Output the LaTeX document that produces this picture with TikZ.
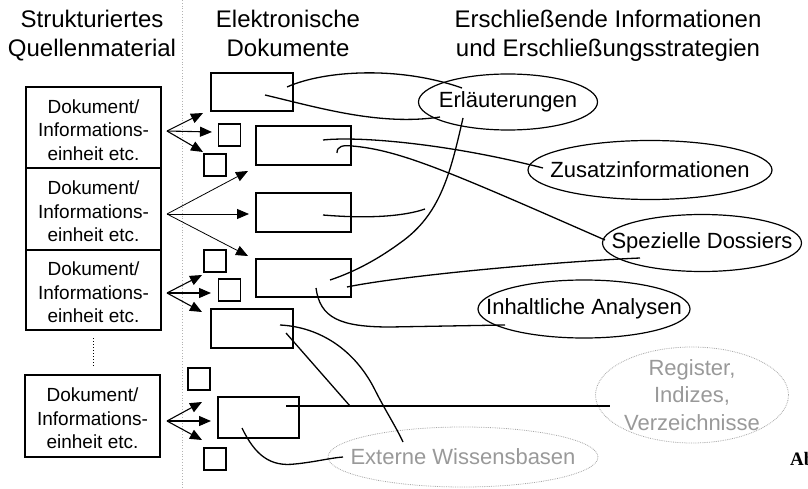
\documentclass[tikz,border=0pt]{standalone}
\usepackage{fontspec}
\setmainfont{Liberation Sans}
\newfontfamily\serifbold{Liberation Serif}
\usetikzlibrary{arrows.meta,shapes.geometric}
\begin{document}
\begin{tikzpicture}[x=1pt,y=-1pt,
  title/.style={align=center,font=\fontsize{24}{29}\selectfont,inner sep=0,anchor=base},
  srcbox/.style={draw,line width=1.3pt,minimum width=135pt,inner sep=0,
    label={[srctext]center:{Dokument/\\Informations-\\einheit etc.}}},
  srctext/.style={align=center,inner sep=0,yshift=-2.5pt,font=\fontsize{19}{23.5}\selectfont},
  docbox/.style={draw,line width=1.3pt,inner sep=0},
  sq/.style={draw,line width=1.2pt,minimum size=22pt,inner sep=0},
  ell/.style={draw,ellipse,line width=1.2pt,inner sep=0,font=\fontsize{22}{26}\selectfont},
  gell/.style={draw=black!35,ellipse,line width=0.8pt,densely dotted,inner sep=0,text=black!40,font=\fontsize{22}{27.5}\selectfont},
  gtext/.style={align=center,inner sep=0,text=black!40,font=\fontsize{22}{27.5}\selectfont},
  arr/.style={line width=1.1pt,-{Triangle[length=12pt,width=10pt]}},
  conn/.style={line width=1.3pt}
]
\useasboundingbox (0,0) rectangle (808,489);
\clip (0,0) rectangle (808,489);

% separator
\coordinate (septop) at (182,0);
\coordinate (sepbot) at (182,489);
\draw[black!30,dotted,line width=0.8pt] (septop) -- (sepbot);

% titles (base anchor = baseline of last line)
\node[title] (t1) at (92,57) {Strukturiertes\\Quellenmaterial};
\node[title] (t2) at (288,57) {Elektronische\\Dokumente};
\node[title] (t3) at (608,57) {Erschließende Informationen\\und Erschließungsstrategien};

% source boxes
\node[srcbox,minimum height=81pt] (b1) at (93.5,127.5) {};
\node[srcbox,minimum height=82pt] (b2) at (93.5,209) {};
\node[srcbox,minimum height=80pt] (b3) at (93.5,290) {};
\node[srcbox,minimum height=82pt] (b4) at (92.5,416) {};
\coordinate (vd1) at (93,338);
\coordinate (vd2) at (93,366);
\draw[dotted,line width=1pt] (vd1) -- (vd2);

% small squares
\node[sq] (s1) at (229.5,135) {};
\node[sq] (s2) at (215,165) {};
\node[sq] (s3) at (215,261) {};
\node[sq] (s4) at (229.5,290) {};
\node[sq] (s5) at (199,379) {};
\node[sq] (s6) at (215,459) {};

% document rectangles
\node[docbox,minimum width=82pt,minimum height=38pt] (r1) at (252,92) {};
\node[docbox,minimum width=95pt,minimum height=39pt] (r2) at (303.5,145.5) {};
\node[docbox,minimum width=95pt,minimum height=39pt] (r3) at (303.5,212.5) {};
\node[docbox,minimum width=95pt,minimum height=38pt] (r4) at (303.5,278) {};
\node[docbox,minimum width=82pt,minimum height=39pt] (r5) at (252,328.5) {};
\node[docbox,minimum width=81pt,minimum height=41pt] (r6) at (258.5,417.5) {};

% arrows
\coordinate (o1) at (167,131);
\coordinate (a11) at (203,113);
\coordinate (a12) at (212,132);
\coordinate (a13) at (203,152);
\draw[arr] (o1) -- (a11);
\draw[arr] (o1) -- (a12);
\draw[arr] (o1) -- (a13);
\coordinate (o2) at (167,214);
\coordinate (a21) at (248,171);
\coordinate (a22) at (249,214);
\coordinate (a23) at (248,256);
\draw[arr,line width=0.8pt] (o2) -- (a21);
\draw[arr,line width=0.8pt] (o2) -- (a22);
\draw[arr,line width=0.8pt] (o2) -- (a23);
\coordinate (o3) at (167,293);
\coordinate (a31) at (202,275);
\coordinate (a32) at (211,293);
\coordinate (a33) at (202,312);
\draw[arr] (o3) -- (a31);
\draw[arr] (o3) -- (a32);
\draw[arr] (o3) -- (a33);
\coordinate (o4) at (167,421);
\coordinate (a41) at (202,402);
\coordinate (a42) at (211,421);
\coordinate (a43) at (202,440);
\draw[arr] (o4) -- (a41);
\draw[arr] (o4) -- (a42);
\draw[arr] (o4) -- (a43);

% ellipses
\node[ell,minimum width=179pt,minimum height=56pt] (erl) at (508,102) {\makebox[0pt]{Erläuterungen}};
\node[ell,minimum width=244pt,minimum height=59pt] (zus) at (650,170) {\makebox[0pt]{Zusatzinformationen}};
\node[ell,minimum width=199pt,minimum height=57pt] (spe) at (702,243) {\makebox[0pt]{Spezielle Dossiers}};
\node[ell,minimum width=212pt,minimum height=58pt] (inh) at (584,309) {\makebox[0pt]{Inhaltliche Analysen}};
\node[gell,minimum width=193pt,minimum height=96pt,label={[gtext]center:{Register,\\Indizes,\\Verzeichnisse}}] (reg) at (692,395) {};
\node[gell,minimum width=270pt,minimum height=60pt] (ext) at (463,457) {\makebox[0pt]{Externe Wissensbasen}};

% connectors
\coordinate (c1) at (287,87);
\coordinate (e1) at (462,88);
\draw[conn] (c1) .. controls (325,70) and (400,66) .. (e1);
\coordinate (c2) at (265,95);
\coordinate (e2) at (440,117);
\draw[conn] (c2) .. controls (320,108) and (380,126) .. (e2);
\coordinate (c3) at (323,140);
\coordinate (e3) at (543,168);
\draw[conn] (c3) .. controls (360,136) and (450,144) .. (e3);
\coordinate (c4) at (337,153);
\coordinate (h4) at (352,146);
\coordinate (e4) at (605,240);
\draw[conn] (c4) .. controls (337,146) and (343,145) .. (h4) .. controls (400,150) and (450,172) .. (e4);
\coordinate (c5) at (323,215);
\coordinate (j5) at (425,209);
\draw[conn] (c5) .. controls (370,219) and (405,216) .. (j5);
\coordinate (e6) at (463,118);
\coordinate (m6) at (400,243);
\coordinate (c6) at (330,280);
\draw[conn] (e6) .. controls (450,175) and (440,215) .. (m6) .. controls (370,265) and (345,275) .. (c6);
\coordinate (c7) at (347,287);
\coordinate (e7) at (640,258);
\draw[conn] (c7) .. controls (400,276) and (550,262) .. (e7);
\coordinate (c8) at (316,288);
\coordinate (m8) at (390,327);
\coordinate (e8) at (505,325);
\draw[conn] (c8) .. controls (320,318) and (340,327) .. (m8) -- (e8);
\coordinate (c9) at (280,325);
\coordinate (m9) at (375,390);
\coordinate (e9) at (403,442);
\draw[conn] (c9) .. controls (320,327) and (355,350) .. (m9) .. controls (385,410) and (395,425) .. (e9);
\coordinate (c10) at (286,333);
\coordinate (e10) at (350,406);
\draw[conn] (c10) -- (e10);
\coordinate (c11) at (286,406);
\coordinate (e11) at (610,406);
\draw[conn] (c11) -- (e11);
\coordinate (c12) at (242,428);
\coordinate (m12) at (295,464);
\coordinate (e12) at (343,457);
\draw[conn] (c12) .. controls (255,455) and (270,467) .. (m12) .. controls (315,462) and (330,458) .. (e12);

% cut-off caption
\node[anchor=base west,inner sep=0,font=\serifbold\bfseries\fontsize{19}{22}\selectfont] (abb) at (790,465) {Abb.};
\end{tikzpicture}
\end{document}
